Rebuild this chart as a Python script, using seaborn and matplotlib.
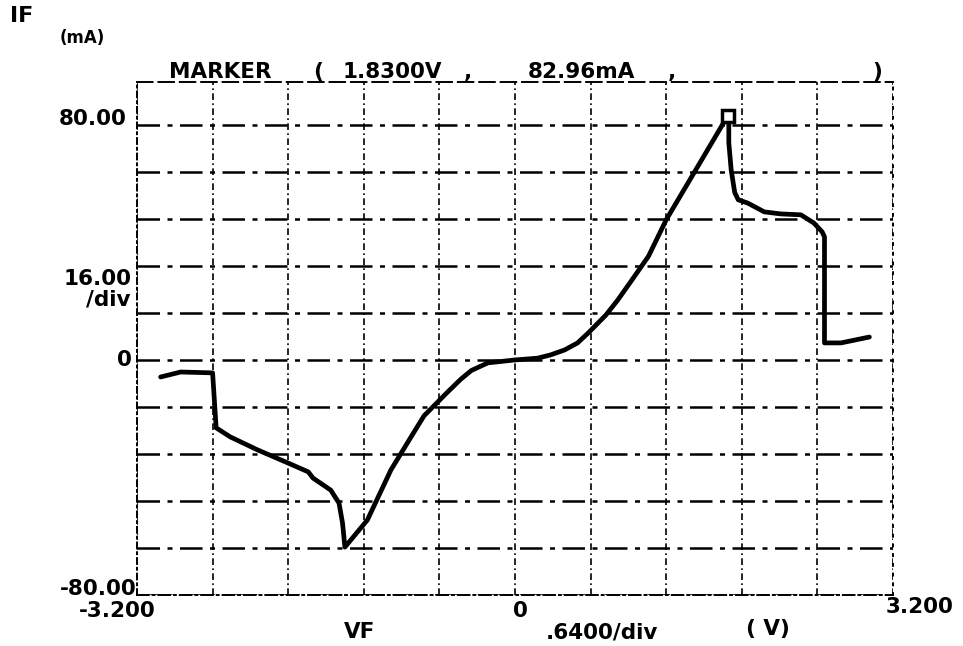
import numpy as np
import pandas as pd
import matplotlib
matplotlib.use("Agg")
import matplotlib.pyplot as plt
import seaborn as sns

# data (VF in volts, IF in mA)
vf = [-3.00, -2.83, -2.56, -2.53, -2.41, -2.18, -1.92, -1.75, -1.71, -1.56,
      -1.49, -1.46, -1.44, -1.25, -1.05, -0.88, -0.77, -0.57, -0.46, -0.37,
      -0.23, 0.00, 0.19, 0.30, 0.42, 0.53, 0.62, 0.77, 0.87, 1.00, 1.13,
      1.28, 1.52, 1.77, 1.81, 1.81, 1.83, 1.86, 1.89, 1.97, 2.11, 2.25,
      2.42, 2.53, 2.60, 2.62, 2.62, 2.76, 3.00]
if_ma = [-5.8, -4.1, -4.4, -23.1, -26.2, -30.6, -35.1, -38.1, -40.2, -44.3,
         -48.7, -55.5, -63.7, -54.5, -37.4, -26.2, -19.0, -10.9, -6.6, -3.6,
         -1.0, 0.0, 0.6, 1.7, 3.4, 5.8, 9.2, 15.3, 20.4, 27.8, 35.3,
         47.7, 64.0, 81.0, 83.0, 74.0, 64.7, 57.0, 54.5, 53.4, 50.4, 49.7,
         49.4, 46.6, 43.6, 41.9, 5.8, 5.8, 7.8]
marker_v = 1.83
marker_i = 82.96
x_ticks = np.round(np.arange(-3.2, 3.21, 0.64), 2)
y_ticks = np.arange(-80, 81, 16)

df = pd.DataFrame({"VF": vf, "IF": if_ma})

sns.set_style("white")
plt.rcParams["font.family"] = ["DejaVu Sans"]

W, H = 963, 646
fig = plt.figure(figsize=(W / 100, H / 100), dpi=100)
# plot box in pixels: left 137, right 893, top 82, bottom 595
ax = fig.add_axes([137 / W, 1 - 595 / H, (893 - 137) / W, (595 - 82) / H])

sns.lineplot(data=df, x="VF", y="IF", sort=False, estimator=None,
             color="black", linewidth=3.4, ax=ax)
ax.plot([marker_v - 0.03], [marker_i], marker="s", markersize=8,
        markerfacecolor="white", markeredgecolor="black", markeredgewidth=2.5)

ax.set_xlim(-3.2, 3.2)
ax.set_ylim(-80, 94.6)
ax.set_xticks(x_ticks)
ax.set_yticks(y_ticks)
ax.tick_params(length=0, labelbottom=False, labelleft=False)
ax.set_xlabel("")
ax.set_ylabel("")
ax.xaxis.grid(True, color="black", linestyle=(0, (4, 2, 1, 2)), linewidth=1.2)
ax.yaxis.grid(True, color="black", linestyle=(0, (9, 3, 2, 3)), linewidth=1.8)
ax.set_axisbelow(True)
for side, ls in [("top", (0, (8, 3))), ("bottom", (0, (6, 2, 1, 2))),
                 ("left", (0, (3, 2, 1, 2))), ("right", (0, (1, 4)))]:
    ax.spines[side].set_visible(True)
    ax.spines[side].set_color("black")
    ax.spines[side].set_linewidth(1.4)
    ax.spines[side].set_linestyle(ls)


def ptext(x, y, s, size=15.5, ha="left", va="baseline"):
    fig.text(x / W, 1 - y / H, s, fontsize=size, fontweight="bold",
             ha=ha, va=va, color="black")


# header
ptext(10, 22, "IF", size=16)
ptext(60, 43, "(mA)", size=12)
ptext(220, 78, "MARKER", ha="center")
ptext(318, 78, "(", ha="center")
ptext(392, 78, "1.8300V", ha="center")
ptext(468, 78, ",", ha="center")
ptext(581, 78, "82.96mA", ha="center")
ptext(672, 78, ",", ha="center")
ptext(877, 78, ")", ha="center")

# y labels
ptext(127, 125, "80.00", ha="right")
ptext(132, 285, "16.00", ha="right")
ptext(131, 306, "/div", ha="right")
ptext(132, 360, "0", ha="right", va="center")
ptext(137, 595, "-80.00", ha="right")

# x labels
ptext(117, 617, "-3.200", ha="center")
ptext(520, 617, "0", ha="center")
ptext(953, 613, "3.200", ha="right")
ptext(360, 638, "VF", ha="center")
ptext(602, 638, ".6400/div", ha="center")
ptext(768, 635, "( V)", ha="center")

fig.savefig("out.png", dpi=100, facecolor="white")
